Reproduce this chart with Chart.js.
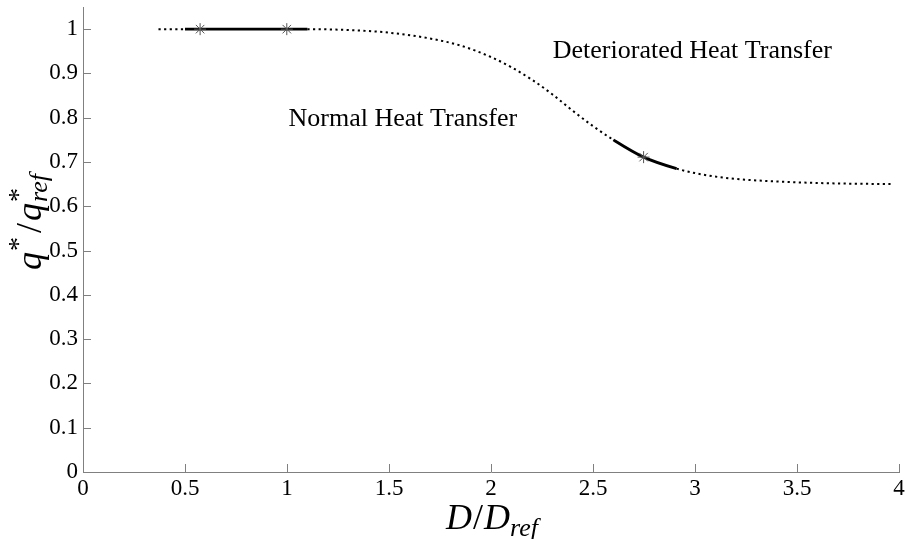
<!DOCTYPE html>
<html>
<head>
<meta charset="utf-8">
<script src="https://cdn.jsdelivr.net/npm/chart.js@4/dist/chart.umd.min.js"></script>
<style>
  html, body { margin: 0; padding: 0; background: #ffffff; }
  #wrap { width: 906px; height: 539px; position: relative; }
</style>
</head>
<body>
<div id="wrap"><canvas id="c" width="906" height="539"></canvas></div>
<script>
// ---- data ----
const curveX = [0.37, 0.5, 0.574, 0.8, 0.999, 1.1, 1.3, 1.5, 1.7, 1.85, 2.0, 2.1, 2.2, 2.3, 2.4, 2.5, 2.6, 2.748, 2.91, 3.0, 3.15, 3.4, 3.65, 3.97];
const curveQ = [1.0, 1.0, 1.0, 1.0, 1.0, 1.0, 0.998, 0.992, 0.979, 0.963, 0.937, 0.914, 0.886, 0.853, 0.816, 0.781, 0.750, 0.711, 0.685, 0.675, 0.664, 0.656, 0.652, 0.650];
const starX = [0.574, 0.999, 2.748];
const starQ = [1.0, 1.0, 0.711];
const solidRanges = [[0.5, 1.1], [2.6, 2.91]];
const xTicks = [0, 0.5, 1, 1.5, 2, 2.5, 3, 3.5, 4];
const yTicks = [0, 0.1, 0.2, 0.3, 0.4, 0.5, 0.6, 0.7, 0.8, 0.9, 1];
const regionLabels = ['Normal Heat Transfer', 'Deteriorated Heat Transfer'];
const regionLabelX = [1.568, 2.987];
const regionLabelQ = [0.797, 0.950];

const SERIF = "'Liberation Serif', 'Times New Roman', 'DejaVu Serif', serif";
const AXIS_COLOR = '#808080';

function isSolid(a, b) {
  return solidRanges.some(r => a >= r[0] - 1e-9 && b <= r[1] + 1e-9);
}
function fmt(v) { return String(Math.round(v * 100) / 100); }

const curveData = curveX.map((x, i) => ({ x: x, y: curveQ[i] }));
const starData = starX.map((x, i) => ({ x: x, y: starQ[i] }));

// inward ticks + annotations + axis titles
const decorPlugin = {
  id: 'decor',
  afterDraw(chart) {
    const ctx = chart.ctx;
    const xs = chart.scales.x, ys = chart.scales.y;
    const area = chart.chartArea;
    ctx.save();
    ctx.strokeStyle = AXIS_COLOR;
    ctx.lineWidth = 1;
    ctx.beginPath();
    xTicks.forEach(v => {
      const px = Math.round(xs.getPixelForValue(v)) + 0.5;
      ctx.moveTo(px, area.bottom);
      ctx.lineTo(px, area.bottom - 8);
    });
    yTicks.forEach(v => {
      const py = Math.round(ys.getPixelForValue(v)) + 0.5;
      ctx.moveTo(area.left, py);
      ctx.lineTo(area.left + 8, py);
    });
    ctx.stroke();

    // region labels
    ctx.fillStyle = '#000';
    ctx.font = '26px ' + SERIF;
    ctx.textAlign = 'center';
    ctx.textBaseline = 'middle';
    regionLabels.forEach((t, i) => {
      ctx.fillText(t, xs.getPixelForValue(regionLabelX[i]), ys.getPixelForValue(regionLabelQ[i]));
    });

    ctx.textAlign = 'left';
    ctx.textBaseline = 'alphabetic';
    function drawParts(parts, x0, base) {
      let x = x0;
      parts.forEach(p => {
        ctx.font = p.f;
        ctx.fillText(p.t, x, base + (p.dy || 0));
        if (!p.noAdvance) x += ctx.measureText(p.t).width + (p.gap || 0);
      });
      return x;
    }
    function widthOf(parts) {
      let w = 0;
      parts.forEach(p => { ctx.font = p.f; if (!p.noAdvance) w += ctx.measureText(p.t).width + (p.gap || 0); });
      return w;
    }
    const big = 'italic 36px ' + SERIF;
    const small = 'italic 26px ' + SERIF;
    const star = '28px ' + SERIF;

    // x title: D/D_ref
    const xParts = [
      { t: 'D', f: big, gap: 1 },
      { t: '/', f: '36px ' + SERIF, gap: 1 },
      { t: 'D', f: big, gap: 0 },
      { t: 'ref', f: small, dy: 7 }
    ];
    const xw = widthOf(xParts);
    drawParts(xParts, 492 - xw / 2, 529);

    // y title: q*/q*_ref rotated
    ctx.save();
    ctx.translate(41, 222);
    ctx.rotate(-Math.PI / 2);
    const yParts = [
      { t: 'q', f: big, gap: 1 },
      { t: '*', f: star, dy: -14, gap: 4 },
      { t: '/', f: '36px ' + SERIF, gap: 2 },
      { t: 'q', f: big, gap: 1 },
      { t: '*', f: star, dy: -14, noAdvance: true },
      { t: 'ref', f: small, dy: 6 }
    ];
    const yw = widthOf(yParts);
    drawParts(yParts, -yw / 2, 0);
    ctx.restore();

    ctx.restore();
  }
};

new Chart(document.getElementById('c'), {
  type: 'line',
  data: {
    datasets: [
      {
        data: starData,
        showLine: false,
        pointStyle: 'star',
        pointRadius: 6,
        pointBorderColor: '#555555',
        pointBorderWidth: 1,
        order: 0
      },
      {
        data: curveData,
        borderColor: '#000000',
        borderWidth: 2,
        pointRadius: 0,
        cubicInterpolationMode: 'monotone',
        fill: false,
        order: 1,
        segment: {
          borderDash: ctx => isSolid(ctx.p0.parsed.x, ctx.p1.parsed.x) ? [] : [2.2, 3.4],
          borderWidth: ctx => isSolid(ctx.p0.parsed.x, ctx.p1.parsed.x) ? 2.8 : 2
        }
      }
    ]
  },
  plugins: [decorPlugin],
  options: {
    responsive: false,
    animation: false,
    events: [],
    layout: { padding: { top: 4, right: 6, left: 0, bottom: 0 } },
    plugins: { legend: { display: false }, tooltip: { enabled: false } },
    scales: {
      x: {
        type: 'linear',
        min: 0, max: 4,
        afterBuildTicks: s => { s.ticks = xTicks.map(v => ({ value: v })); },
        afterFit: s => { s.height = 67; s.paddingLeft = 0; s.paddingRight = 0; },
        grid: { display: true, drawOnChartArea: false, drawTicks: false },
        border: { display: true, color: AXIS_COLOR, width: 1 },
        ticks: { color: '#000', font: { family: SERIF, size: 23 }, padding: 3, maxRotation: 0, autoSkip: false, callback: v => fmt(v) }
      },
      y: {
        type: 'linear',
        min: 0, max: 1.05,
        afterBuildTicks: s => { s.ticks = yTicks.map(v => ({ value: v })); },
        afterFit: s => { s.width = 83; s.paddingTop = 0; s.paddingBottom = 0; },
        grid: { display: true, drawOnChartArea: false, drawTicks: false },
        border: { display: true, color: AXIS_COLOR, width: 1 },
        ticks: { color: '#000', font: { family: SERIF, size: 23 }, padding: 5, autoSkip: false, callback: v => fmt(v) }
      }
    }
  }
});
</script>
</body>
</html>
